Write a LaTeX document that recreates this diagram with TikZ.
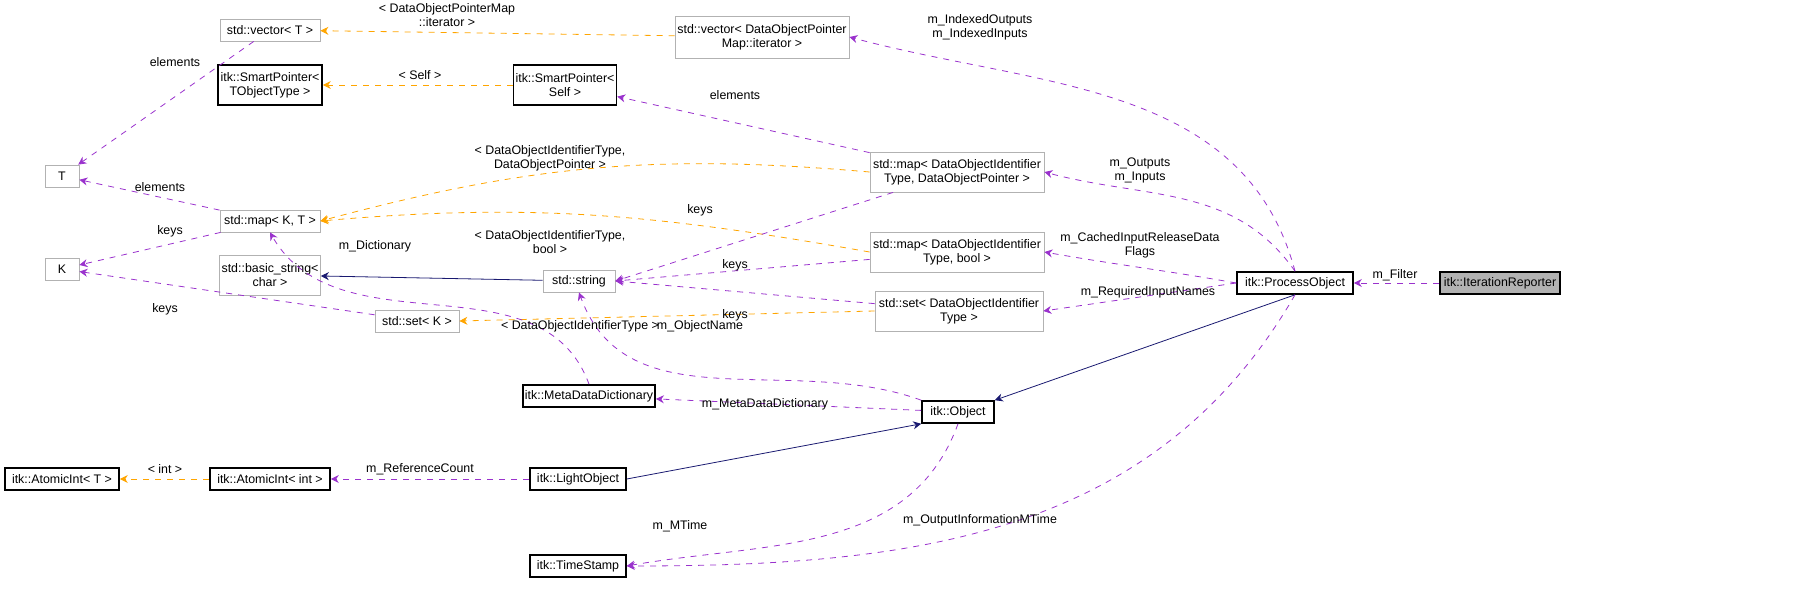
\documentclass[tikz,border=0pt]{standalone}
\usepackage{fontspec}
\setmainfont{Liberation Sans}
\usetikzlibrary{arrows.meta}
\definecolor{usecol}{HTML}{9A32CD}
\definecolor{tmplcol}{HTML}{FFA500}
\definecolor{inhcol}{HTML}{191970}
\tikzset{
  box/.style={draw=gray!60, fill=white, inner sep=1pt, font=\fontsize{6.2}{7}\selectfont, align=center},
  bbox/.style={box, draw=black, thick},
  use/.style={usecol, dashed, -{Stealth[length=4pt,width=4pt]}},
  tmpl/.style={tmplcol, dashed, -{Stealth[length=4pt,width=4pt]}},
  inh/.style={inhcol, -{Stealth[length=4pt,width=4pt]}},
  lbl/.style={font=\fontsize{6.2}{7}\selectfont, align=center, inner sep=0pt}
}
\begin{document}
\begin{tikzpicture}[x=0.5pt, y=-0.5pt]
    \useasboundingbox (0,0) rectangle (1808,609);

    % Class boxes
    \node[box, minimum width=50pt, minimum height=11pt] (vecT) at (270,30) {std::vector< T >};
    \node[box, minimum width=87pt, minimum height=21pt] (vecIt) at (762,37) {std::vector< DataObjectPointer\\Map::iterator >};
    \node[bbox, minimum width=52pt, minimum height=20pt] (spT) at (270,85) {itk::SmartPointer<\\TObjectType >};
    \node[bbox, minimum width=43pt, minimum height=20pt] (spSelf) at (565,85) {itk::SmartPointer<\\Self >};
    \node[box, minimum width=17pt, minimum height=11pt] (T) at (62,176) {T};
    \node[box, minimum width=50pt, minimum height=11pt] (mapKT) at (270,221) {std::map< K, T >};
    \node[box, minimum width=87pt, minimum height=20pt] (mapPtr) at (957,172) {std::map< DataObjectIdentifier\\Type, DataObjectPointer >};
    \node[box, minimum width=17pt, minimum height=11pt] (K) at (62,269) {K};
    \node[box, minimum width=50pt, minimum height=20pt] (bstr) at (270,275) {std::basic\_string<\\char >};
    \node[box, minimum width=36pt, minimum height=11pt] (str) at (579,281) {std::string};
    \node[box, minimum width=87pt, minimum height=20pt] (mapBool) at (957,252) {std::map< DataObjectIdentifier\\Type, bool >};
    \node[box, minimum width=84pt, minimum height=20pt] (setId) at (959,311) {std::set< DataObjectIdentifier\\Type >};
    \node[bbox, minimum width=58pt, minimum height=11pt] (proc) at (1295,283) {itk::ProcessObject};
    \node[box, draw=black, thick, fill=gray!60, minimum width=60pt, minimum height=11pt] (iter) at (1500,283) {itk::IterationReporter};
    \node[box, minimum width=42pt, minimum height=11pt] (setK) at (417,321) {std::set< K >};
    \node[bbox, minimum width=61pt, minimum height=11pt] (meta) at (589,396) {itk::MetaDataDictionary};
    \node[bbox, minimum width=36pt, minimum height=11pt] (obj) at (958,412) {itk::Object};
    \node[bbox, minimum width=57pt, minimum height=11pt] (atT) at (62,479) {itk::AtomicInt< T >};
    \node[bbox, minimum width=60pt, minimum height=11pt] (atInt) at (270,479) {itk::AtomicInt< int >};
    \node[bbox, minimum width=48pt, minimum height=11pt] (light) at (578,479) {itk::LightObject};
    \node[bbox, minimum width=48pt, minimum height=11pt] (stamp) at (578,566) {itk::TimeStamp};

    % Template instances
    \draw[tmpl] (vecIt) -- (vecT);
    \draw[tmpl] (spSelf) -- (spT);
    \draw[tmpl] (mapPtr.west) to[out=175,in=15] (mapKT.east);
    \draw[tmpl] (mapBool.west) to[out=170,in=5] (mapKT.east);
    \draw[tmpl] (setId.west) -- (setK.east);
    \draw[tmpl] (atInt) -- (atT);

    % Inheritance
    \draw[inh] (str) -- (bstr);
    \draw[inh] (light.east) -- (obj.south west);
    \draw[inh] (proc.south) -- (obj.north east);

    % Usage
    \draw[use] (vecT) -- (T);
    \draw[use] (mapKT) -- (T);
    \draw[use] (mapKT) -- (K);
    \draw[use] (setK) -- (K);
    \draw[use] (mapPtr) -- (spSelf);
    \draw[use] (mapPtr) -- (str.east);
    \draw[use] (mapBool) -- (str.east);
    \draw[use] (setId) -- (str.east);
    \draw[use] (meta.north) to[out=110,in=-60] (mapKT.south);
    \draw[use] (obj.north west) to[out=160,in=-70] (str.south);
    \draw[use] (obj) -- (meta);
    \draw[use] (obj.south) to[out=-110,in=10] (stamp.east);
    \draw[use] (light) -- (atInt);
    \draw[use] (proc.north) to[out=105,in=-15] (vecIt.east);
    \draw[use] (proc.north) to[out=125,in=-15] (mapPtr.east);
    \draw[use] (proc.west) to[out=170,in=-10] (mapBool.east);
    \draw[use] (proc.west) -- (setId.east);
    \draw[use] (proc.south) to[out=-120,in=0] (stamp.east);
    \draw[use] (iter) -- (proc);

    % Edge labels
    \node[lbl] at (447,15) {< DataObjectPointerMap\\::iterator >};
    \node[lbl] at (175,62) {elements};
    \node[lbl] at (420,75) {< Self >};
    \node[lbl] at (735,95) {elements};
    \node[lbl] at (550,158) {< DataObjectIdentifierType,\\DataObjectPointer >};
    \node[lbl] at (160,187) {elements};
    \node[lbl] at (700,210) {keys};
    \node[lbl] at (170,231) {keys};
    \node[lbl] at (550,242) {< DataObjectIdentifierType,\\bool >};
    \node[lbl] at (375,246) {m\_Dictionary};
    \node[lbl] at (735,265) {keys};
    \node[lbl] at (165,309) {keys};
    \node[lbl] at (735,315) {keys};
    \node[lbl] at (580,326) {< DataObjectIdentifierType >};
    \node[lbl] at (700,326) {m\_ObjectName};
    \node[lbl] at (765,404) {m\_MetaDataDictionary};
    \node[lbl] at (165,469) {< int >};
    \node[lbl] at (420,469) {m\_ReferenceCount};
    \node[lbl] at (680,526) {m\_MTime};
    \node[lbl] at (980,520) {m\_OutputInformationMTime};
    \node[lbl] at (980,27) {m\_IndexedOutputs\\m\_IndexedInputs};
    \node[lbl] at (1140,170) {m\_Outputs\\m\_Inputs};
    \node[lbl] at (1140,245) {m\_CachedInputReleaseData\\Flags};
    \node[lbl] at (1148,292) {m\_RequiredInputNames};
    \node[lbl] at (1395,275) {m\_Filter};
\end{tikzpicture}
\end{document}
